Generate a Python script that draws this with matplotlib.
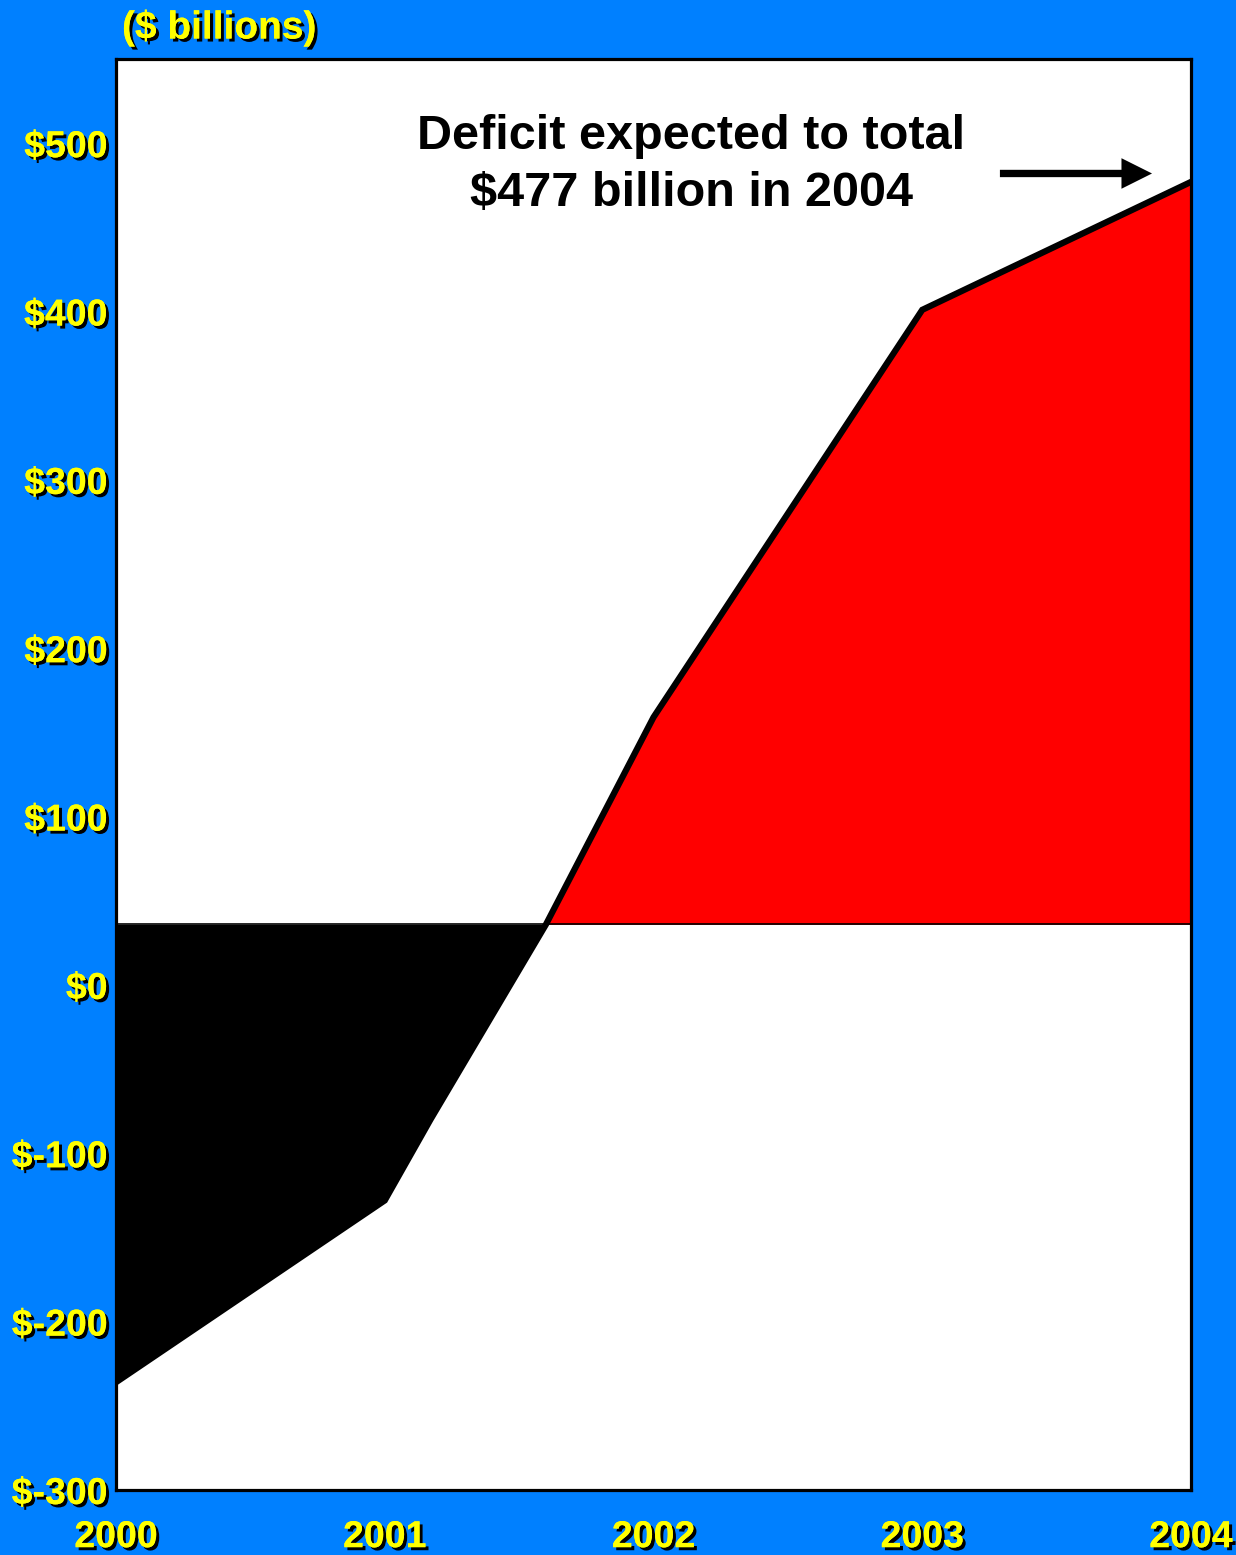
import numpy as np
import matplotlib.pyplot as plt
import matplotlib.patheffects as pe

# federal budget balance, $ billions (negative = surplus)
years = [2000, 2001, 2001.17, 2001.6, 2002, 2003, 2004]
balance = [-236, -128, -80, 36, 159, 401, 477]
baseline = 36

ytick_vals = [-300, -200, -100, 0, 100, 200, 300, 400, 500]
ytick_labels = ['$-300', '$-200', '$-100', '$0', '$100', '$200', '$300', '$400', '$500']
xtick_vals = [2000, 2001, 2002, 2003, 2004]

plt.rcParams['font.family'] = ['Liberation Sans', 'DejaVu Sans']

bg = '#0080FF'
fig = plt.figure(figsize=(12.36, 15.55), dpi=100, facecolor=bg)
ax = fig.add_axes([116 / 1236, 1 - 1490 / 1555, 1075 / 1236, 1431 / 1555])
ax.set_facecolor('white')

x = np.array(years)
y = np.array(balance)

# surplus years in black, deficit years in red
ax.fill_between(x, y, baseline, where=y <= baseline, interpolate=True,
                color='black', linewidth=0)
ax.fill_between(x, y, baseline, where=y >= baseline, interpolate=True,
                color='#FF0000', linewidth=0)
ax.plot(x, y, color='black', linewidth=4.5, solid_joinstyle='miter')
ax.axhline(baseline, color='black', linewidth=1.2)

ax.set_xlim(2000, 2004)
ax.set_ylim(-300, 550)

for s in ax.spines.values():
    s.set_linewidth(2.3)
    s.set_color('black')

shadow = [pe.withSimplePatchShadow(offset=(2.2, -2.2), shadow_rgbFace='black', alpha=1.0),
          pe.Normal()]

ax.set_yticks(ytick_vals)
ax.set_yticklabels(ytick_labels)
ax.set_xticks(xtick_vals)
ax.set_xticklabels([str(v) for v in xtick_vals])
ax.tick_params(length=0)
ax.tick_params(axis='y', pad=6)
ax.tick_params(axis='x', pad=21)
for lbl in ax.get_yticklabels() + ax.get_xticklabels():
    lbl.set_color('#FFFF00')
    lbl.set_fontsize(27)
    lbl.set_fontweight('bold')
    lbl.set_path_effects(shadow)

fig.text(122 / 1236, 1 - 28 / 1555, '($ billions)', color='#FFFF00',
         fontsize=28, fontweight='bold', ha='left', va='center',
         path_effects=shadow)

ax.text(2002.14, 487, 'Deficit expected to total\n$477 billion in 2004',
        ha='center', va='center', fontsize=35, fontweight='bold',
        color='black', linespacing=1.33)

ax.annotate('', xy=(2003.855, 482), xytext=(2003.289, 482),
            arrowprops=dict(arrowstyle='simple,head_length=1.0,head_width=1.0,tail_width=0.24',
                            mutation_scale=22, color='black', lw=0,
                            shrinkA=0, shrinkB=0))

fig.savefig('out.png', dpi=100, facecolor=bg)
